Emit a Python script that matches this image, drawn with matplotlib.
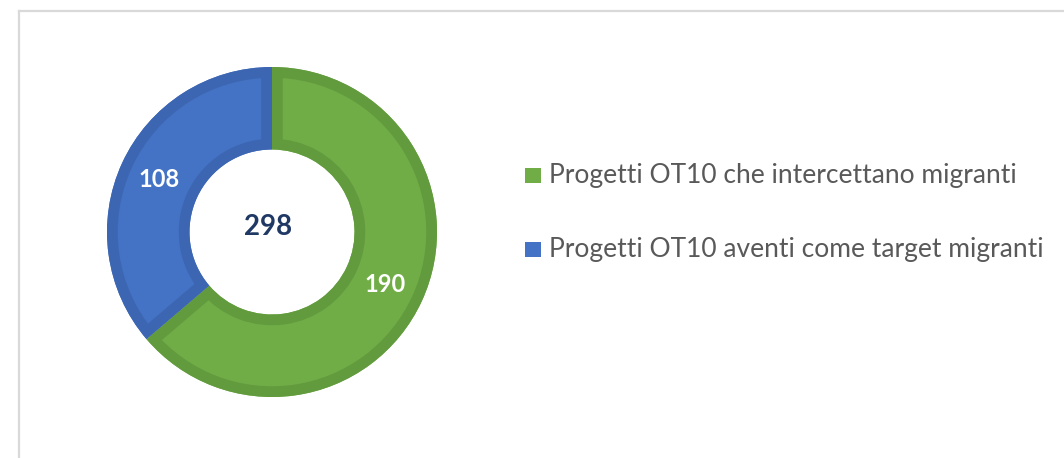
import matplotlib
matplotlib.use("Agg")
import matplotlib.pyplot as plt
from matplotlib.patches import Rectangle, Wedge
from matplotlib.lines import Line2D

categories = ["Progetti OT10 che intercettano migranti",
              "Progetti OT10 aventi come target migranti"]
values = [190, 108]
colors = ["#70AD47", "#4472C4"]
edge_colors = ["#629B3E", "#3D66B2"]
total_label = "298"

plt.rcParams['font.family'] = ['Lato', 'DejaVu Sans']

W, H = 1064, 458
fig = plt.figure(figsize=(W / 100, H / 100), dpi=100)

# figure frame lines
fig.add_artist(Line2D([19 / W, 1.0], [1 - 11 / H, 1 - 11 / H], transform=fig.transFigure,
                      color="#d9d9d9", lw=1.6))
fig.add_artist(Line2D([19 / W, 19 / W], [0, 1 - 11 / H], transform=fig.transFigure,
                      color="#d9d9d9", lw=1.6))

cx, cy, R = 272, 232, 165
ax = fig.add_axes([(cx - R) / W, (H - cy - R) / H, 2 * R / W, 2 * R / H])
wedges, texts = ax.pie(values, colors=colors, startangle=90, counterclock=False,
                       radius=1.0, wedgeprops=dict(width=0.5, linewidth=0),
                       labels=[str(v) for v in values], labeldistance=0.755,
                       textprops=dict(color="white", fontsize=17, fontweight="bold",
                                      ha="center", va="center"))
# inner darker border on each segment (stroke clipped to the segment)
for w, ec in zip(wedges, edge_colors):
    clip = Wedge(w.center, w.r, w.theta1, w.theta2, width=w.width,
                 transform=ax.transData)
    outline = Wedge(w.center, w.r, w.theta1, w.theta2, width=w.width,
                    facecolor="none", edgecolor=ec, linewidth=15.5,
                    transform=ax.transData)
    ax.add_patch(outline)
    outline.set_clip_path(clip)
for t in texts:
    t.set_zorder(5)
ax.set_xlim(-1, 1)
ax.set_ylim(-1, 1)
ax.set_aspect("equal")
ax.axis("off")
ax.text(-0.024, 0.03, total_label, ha="center", va="center", fontsize=20,
        fontweight="bold", color="#1F3864", zorder=5)

# legend
for i, (cat, col) in enumerate(zip(categories, colors)):
    base = 183 + 74 * i
    fig.add_artist(Rectangle((525 / W, 1 - base / H), 16 / W, 15.5 / H,
                             transform=fig.transFigure, facecolor=col, edgecolor="none"))
    fig.text(549 / W, 1 - base / H, cat, ha="left", va="baseline",
             fontsize=19, color="#595959")

fig.savefig("out.png", dpi=100, facecolor="white")
